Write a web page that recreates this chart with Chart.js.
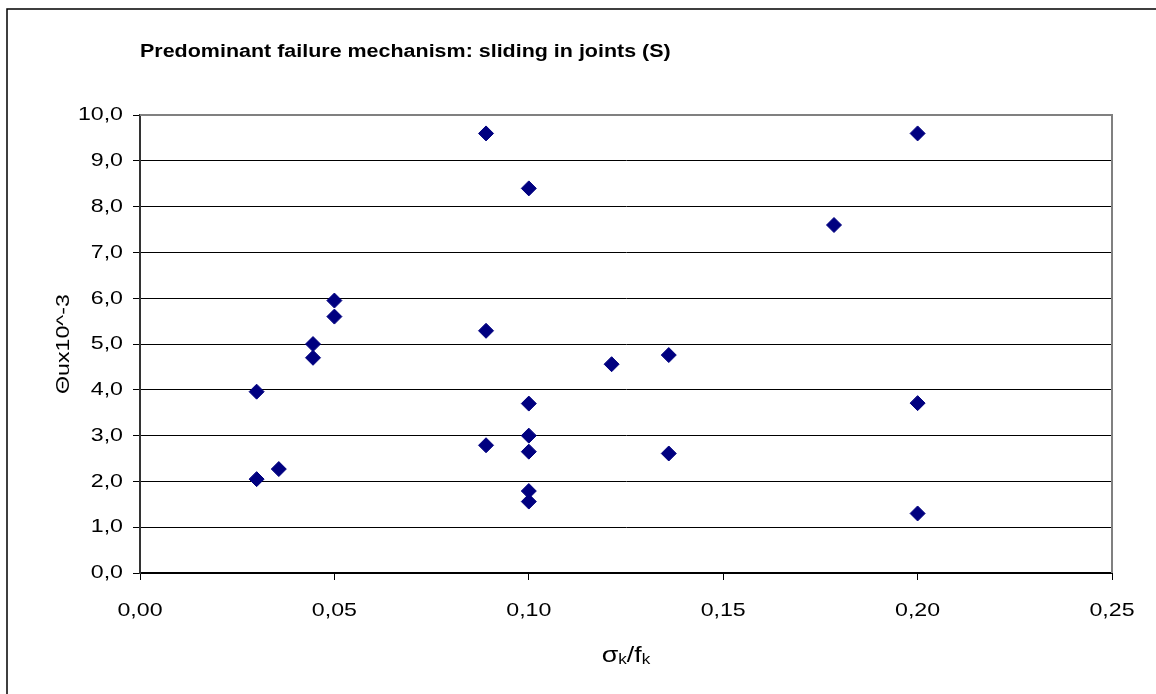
<!DOCTYPE html>
<html>
<head>
<meta charset="utf-8">
<script src="https://cdn.jsdelivr.net/npm/chart.js@4.4.1/dist/chart.umd.min.js"></script>
<style>
  html, body { margin: 0; padding: 0; background: #ffffff; }
  canvas { display: block; }
</style>
</head>
<body>
<canvas id="c" width="1156" height="694"></canvas>
<script>
// ---- data ----
const titleText = 'Predominant failure mechanism: sliding in joints (S)';
const yAxisTitle = 'Θux10^-3';
const sigmaRatio = [0.089, 0.100, 0.200, 0.1785, 0.050, 0.050, 0.0445, 0.0445, 0.089, 0.1213, 0.136, 0.030,
                    0.100, 0.200, 0.089, 0.100, 0.100, 0.136, 0.030, 0.0357, 0.100, 0.100, 0.200];
const thetaU     = [9.60, 8.40, 9.60, 7.60, 5.95, 5.60, 5.00, 4.70, 5.29, 4.56, 4.76, 3.96,
                    3.70, 3.71, 2.79, 3.00, 2.65, 2.61, 2.05, 2.27, 1.79, 1.56, 1.30];
const xTickMin = 0, xTickMax = 0.25, xTickStep = 0.05;
const yTickMin = 0, yTickMax = 10, yTickStep = 1;

const points = sigmaRatio.map((x, i) => ({ x: x, y: thetaU[i] }));

// ---- horizontally widened text (reference glyphs are stretched) ----
const canvas = document.getElementById('c');
const ctx = canvas.getContext('2d');
const SX = 1.22;
const origFill = ctx.fillText.bind(ctx);
const origMeasure = ctx.measureText.bind(ctx);
ctx.fillText = function (text, x, y, maxWidth) {
  this.save();
  this.translate(x, y);
  this.scale(SX, 1);
  if (maxWidth !== undefined && maxWidth !== null) origFill(text, 0, 0, maxWidth / SX);
  else origFill(text, 0, 0);
  this.restore();
};
ctx.measureText = function (text) {
  const m = origMeasure(text);
  return {
    width: m.width * SX,
    actualBoundingBoxAscent: m.actualBoundingBoxAscent,
    actualBoundingBoxDescent: m.actualBoundingBoxDescent,
    actualBoundingBoxLeft: m.actualBoundingBoxLeft * SX,
    actualBoundingBoxRight: m.actualBoundingBoxRight * SX,
    fontBoundingBoxAscent: m.fontBoundingBoxAscent,
    fontBoundingBoxDescent: m.fontBoundingBoxDescent
  };
};

const FONT = "'Liberation Sans', Arial, sans-serif";

const framePlugin = {
  id: 'frame',
  beforeDatasetsDraw(chart) {
    const a = chart.chartArea;
    const c = chart.ctx;
    c.save();
    c.strokeStyle = '#808080';
    c.lineWidth = 2;
    c.beginPath();
    c.moveTo(a.left, a.top);
    c.lineTo(a.right, a.top);
    c.lineTo(a.right, a.bottom);
    c.stroke();
    c.restore();
  },
  afterDraw(chart) {
    const c = chart.ctx;
    const a = chart.chartArea;
    c.save();
    // outer chart frame (left and top edges visible)
    c.strokeStyle = '#000';
    c.lineWidth = 1.5;
    c.beginPath();
    c.moveTo(7, 694);
    c.lineTo(7, 9);
    c.lineTo(1156, 9);
    c.stroke();
    // x-axis title with subscripts: σk/fk
    const parts = [['σ', 22, 0], ['k', 14, 2], ['/f', 22, 0], ['k', 14, 2]];
    let total = 0;
    parts.forEach(p => { c.font = p[1] + 'px ' + FONT; total += c.measureText(p[0]).width; });
    let x = (a.left + a.right) / 2 - total / 2;
    const base = 662;
    c.fillStyle = '#000';
    c.textAlign = 'left';
    c.textBaseline = 'alphabetic';
    parts.forEach(p => {
      c.font = p[1] + 'px ' + FONT;
      c.fillText(p[0], x, base + p[2]);
      x += c.measureText(p[0]).width;
    });
    c.restore();
  }
};

new Chart(ctx, {
  type: 'scatter',
  data: {
    datasets: [{
      label: 'S',
      data: points,
      pointStyle: 'rectRot',
      pointRadius: 7.5,
      pointHoverRadius: 7.5,
      backgroundColor: '#000080',
      borderColor: '#000080',
      borderWidth: 1
    }]
  },
  options: {
    responsive: false,
    animation: false,
    events: [],
    layout: { padding: { left: 0, right: 44, top: 0, bottom: 0 } },
    plugins: {
      legend: { display: false },
      tooltip: { enabled: false },
      title: {
        display: true,
        text: titleText,
        align: 'start',
        fullSize: false,
        color: '#000',
        font: { family: FONT, size: 17.6, weight: 'bold' },
        padding: { top: 42, bottom: 52 }
      }
    },
    scales: {
      x: {
        type: 'linear',
        min: xTickMin,
        max: xTickMax,
        afterFit(scale) { scale.height = 121; },
        ticks: {
          stepSize: xTickStep,
          color: '#000',
          font: { family: FONT, size: 19 },
          padding: 19,
          maxRotation: 0,
          callback: v => Number(v).toFixed(2).replace('.', ',')
        },
        grid: {
          drawOnChartArea: false,
          drawTicks: true,
          tickLength: 7,
          tickColor: '#000',
          tickWidth: 1
        },
        border: { display: true, color: '#000', width: 2 },
        title: { display: false }
      },
      y: {
        type: 'linear',
        min: yTickMin,
        max: yTickMax,
        afterFit(scale) { scale.width = 140; },
        ticks: {
          stepSize: yTickStep,
          color: '#000',
          font: { family: FONT, size: 19 },
          padding: 10,
          callback: v => Number(v).toFixed(1).replace('.', ',')
        },
        grid: {
          drawOnChartArea: true,
          color: '#000',
          lineWidth: 1,
          drawTicks: true,
          tickLength: 7,
          tickColor: '#000',
          tickWidth: 1
        },
        border: { display: true, color: '#333', width: 2 },
        title: {
          display: true,
          text: yAxisTitle,
          color: '#000',
          font: { family: FONT, size: 19 },
          padding: { top: 52, bottom: 0 }
        }
      }
    }
  },
  plugins: [framePlugin]
});
</script>
</body>
</html>
